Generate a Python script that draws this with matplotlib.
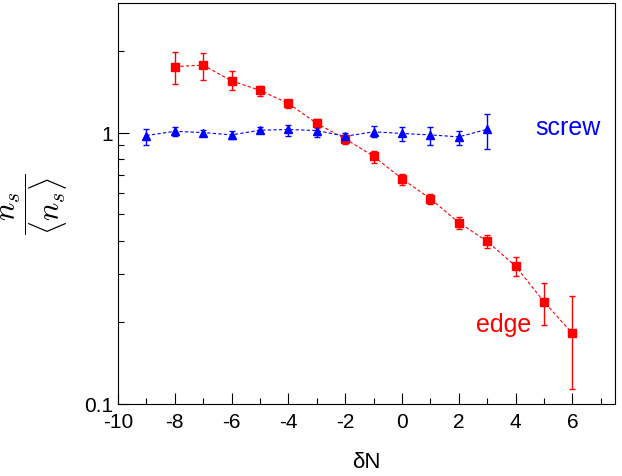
import numpy as np
import matplotlib
matplotlib.use("Agg")
import matplotlib.pyplot as plt
from matplotlib.ticker import FixedLocator, NullFormatter

plt.rcParams['font.family'] = ['Liberation Sans', 'DejaVu Sans']
plt.rcParams['mathtext.fontset'] = 'cm'
plt.rcParams['axes.unicode_minus'] = False

# edge dislocations (red squares)
edge_x = [-8, -7, -6, -5, -4, -3, -2, -1, 0, 1, 2, 3, 4, 5, 6]
edge_y = [1.75, 1.77, 1.55, 1.43, 1.28, 1.08, 0.948, 0.817, 0.676, 0.570, 0.466, 0.397, 0.322, 0.238, 0.182]
edge_hi = [1.98, 1.96, 1.68, 1.48, 1.32, 1.12, 0.978, 0.854, 0.705, 0.595, 0.490, 0.418, 0.349, 0.278, 0.249]
edge_lo = [1.51, 1.56, 1.43, 1.36, 1.23, 1.04, 0.909, 0.774, 0.642, 0.547, 0.440, 0.374, 0.296, 0.196, 0.114]

# screw dislocations (blue triangles)
screw_x = [-9, -8, -7, -6, -5, -4, -3, -2, -1, 0, 1, 2, 3]
screw_y = [0.975, 1.01, 1.0, 0.98, 1.02, 1.026, 1.017, 0.969, 1.006, 0.992, 0.98, 0.964, 1.028]
screw_hi = [1.03, 1.046, 1.02, 1.017, 1.046, 1.064, 1.067, 1.0, 1.055, 1.049, 1.046, 1.017, 1.174]
screw_lo = [0.901, 0.967, 0.98, 0.943, 0.994, 0.975, 0.964, 0.943, 0.964, 0.927, 0.901, 0.898, 0.868]

fig = plt.figure(figsize=(6.22, 4.77), dpi=100)
ax = fig.add_axes([118 / 622, 72 / 477, 497 / 622, 401 / 477])


def draw(x, y, lo, hi, color, marker, ms):
    y = np.array(y)
    err = [y - np.array(lo), np.array(hi) - y]
    ax.plot(x, y, linestyle=(0, (3, 2)), color=color, lw=0.8)
    ax.errorbar(x, y, yerr=err, fmt=marker, color=color, ms=ms,
                elinewidth=1.0, capsize=2, capthick=1.0)


draw(edge_x, edge_y, edge_lo, edge_hi, 'red', 's', 5.5)
draw(screw_x, screw_y, screw_lo, screw_hi, 'blue', '^', 5.5)

ax.set_yscale('log')
ax.set_xlim(-10, 7.5)
ax.set_ylim(0.1, 3)

ax.xaxis.set_major_locator(FixedLocator(np.arange(-10, 7, 2)))
ax.xaxis.set_minor_locator(FixedLocator(np.arange(-9, 8, 2)))
ax.yaxis.set_major_locator(FixedLocator([0.1, 1]))
ax.yaxis.set_minor_locator(FixedLocator([0.2, 0.3, 0.4, 0.5, 0.6, 0.7, 0.8, 0.9, 2]))
ax.yaxis.set_minor_formatter(NullFormatter())
ax.set_yticklabels(['0.1', '1'])
ax.set_xticklabels([str(v) for v in range(-10, 7, 2)])

ax.tick_params(which='both', direction='in', top=False, right=False, labelsize=15)
ax.tick_params(which='major', length=8, width=0.8)
ax.tick_params(which='minor', length=4, width=0.8)
ax.tick_params(axis='x', pad=6)

ax.set_xlabel('δN', fontsize=16, labelpad=14)
ax.set_ylabel(r'$\dfrac{n_s}{\langle n_s \rangle}$', fontsize=22, rotation=90, labelpad=10)

fig.text(568 / 622, 1 - 128 / 477, 'screw', color='blue', fontsize=18,
         ha='center', va='center')
fig.text(504 / 622, 1 - 325 / 477, 'edge', color='red', fontsize=18,
         ha='center', va='center')

fig.savefig('out.png', dpi=100)
